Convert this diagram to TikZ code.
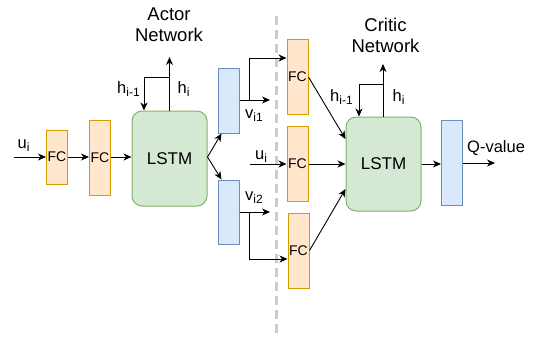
\documentclass[tikz,border=0pt]{standalone}
\usepackage{fontspec}
\setmainfont{Liberation Sans}
\usetikzlibrary{arrows.meta,calc}
\definecolor{fcfill}{HTML}{FFE6CC}
\definecolor{fcline}{HTML}{D79B00}
\definecolor{lstmfill}{HTML}{D5E8D4}
\definecolor{lstmline}{HTML}{82B366}
\definecolor{vecfill}{HTML}{DAE8FC}
\definecolor{vecline}{HTML}{6C8EBF}
\definecolor{divider}{HTML}{CCCCCC}
% lowered index in a smaller size
\newcommand\lowidx[1]{\raisebox{-3pt}{\fontsize{12}{12}\selectfont #1}}
\tikzset{
  fcbox/.style={draw=fcline, fill=fcfill, line width=1pt, minimum width=21pt,
    inner sep=0pt, font=\fontsize{14}{16}\selectfont},
  lstmbox/.style={draw=lstmline, fill=lstmfill, line width=1pt, rounded corners=10pt,
    minimum width=75pt, minimum height=94pt, inner sep=0pt, font=\fontsize{17}{20}\selectfont},
  vecbox/.style={draw=vecline, fill=vecfill, line width=1pt, minimum width=21pt, inner sep=0pt},
  lbl/.style={inner sep=0pt, font=\fontsize{16.5}{20}\selectfont},
  title/.style={inner sep=0pt, align=center, font=\fontsize{18.5}{21}\selectfont},
  arr/.style={-{Stealth[length=8pt,width=7pt,inset=2.5pt]}, line width=0.9pt},
  ln/.style={line width=0.9pt}
}
\begin{document}
\begin{tikzpicture}[x=1pt, y=-1pt]
\useasboundingbox (0,0) rectangle (537,341);

% divider between the two networks
\draw[divider, line width=3pt, dash pattern=on 9pt off 5pt] (276,16) -- (276,334);

% ---- actor network ----
\node[fcbox, minimum height=54pt] (fc1) at (57,157) {FC};
\node[fcbox, minimum height=75pt] (fc2) at (100,157.5) {FC};
\node[lstmbox, minimum height=95pt] (la) at (169.5,158.5) {LSTM};
\node[vecbox, minimum height=65pt] (v1) at (228.5,100.5) {};
\node[vecbox, minimum height=64pt] (v2) at (228.5,212) {};

\node[title] (ta) at (169,25) {Actor\\Network};
\node[lbl, anchor=base west] (lu1) at (17.5,148.5) {u\lowidx{i}};
\node[lbl, anchor=base west] (lhp1) at (117,93) {h\lowidx{i-1}};
\node[lbl, anchor=base west] (lh1) at (177.5,93) {h\lowidx{i}};
\node[lbl, anchor=base west] (lv1) at (245,118) {v\lowidx{i1}};
\node[lbl, anchor=base west] (lv2) at (245,200) {v\lowidx{i2}};

\coordinate (uin) at (14,157);
\coordinate (hout1) at (170,57);
\coordinate (hloop1) at (170,77);
\coordinate (v1end) at (270,100);
\coordinate (v2end) at (270,212);
\coordinate (br1) at (249,100);
\coordinate (br2) at (249,212);

\draw[arr] (uin) -- (fc1.west);
\draw[arr] (fc1.east) -- (fc2.west |- fc1.east);
\draw[arr] (fc2.east |- fc1.east) -- (la.west |- fc1.east);
\draw[arr] (la.east |- fc1.east) -- ([xshift=4pt]v1.south west);
\draw[arr] (la.east |- fc1.east) -- ([xshift=4pt]v2.north west);
\draw[arr] (la.north) -- (hout1 -| la.north);
\draw[arr] (hloop1) -| ([xshift=-25.5pt]la.north);
\draw[arr] (v1.east |- br1) -- (v1end);
\draw[arr] (v2.east |- br2) -- (v2end);

% ---- critic network ----
\node[fcbox, minimum height=75pt] (fca) at (297.5,77) {FC};
\node[fcbox, minimum height=75pt] (fcb) at (297.5,164) {FC};
\node[fcbox, minimum height=75pt] (fcc) at (298.5,250.5) {FC};
\node[lstmbox] (lc) at (383.5,164) {LSTM};
\node[vecbox, minimum height=85pt] (v3) at (452,162.5) {};

\node[title] (tc) at (385.5,35) {Critic\\Network};
\node[lbl, anchor=base west] (lu2) at (255,159) {u\lowidx{i}};
\node[lbl, anchor=base west] (lhp2) at (330,101) {h\lowidx{i-1}};
\node[lbl, anchor=base west] (lh2) at (392.5,101) {h\lowidx{i}};
\node[lbl, anchor=base west] (lq) at (467,152) {Q-value};

\coordinate (uin2) at (250,164);
\coordinate (hout2) at (383,64);
\coordinate (hloop2) at (383,84);
\coordinate (qend) at (495,163);

\draw[arr] (br1) |- ([yshift=19pt]fca.west);
\draw[arr] (br2) |- ([yshift=-8.5pt]fcc.west);
\draw[arr] (uin2) -- (fcb.west);
\draw[arr] (fca.east) -- ([yshift=25pt]lc.west);
\draw[arr] (fcb.east) -- (lc.west);
\draw[arr] (fcc.east) -- ([yshift=-25pt]lc.west);
\draw[arr] (lc.north -| hout2) -- (hout2);
\draw[arr] (hloop2) -| ([xshift=-24.5pt]lc.north);
\draw[arr] (lc.east) -- (v3.west |- lc.east);
\draw[arr] (v3.east |- qend) -- (qend);
\end{tikzpicture}
\end{document}
